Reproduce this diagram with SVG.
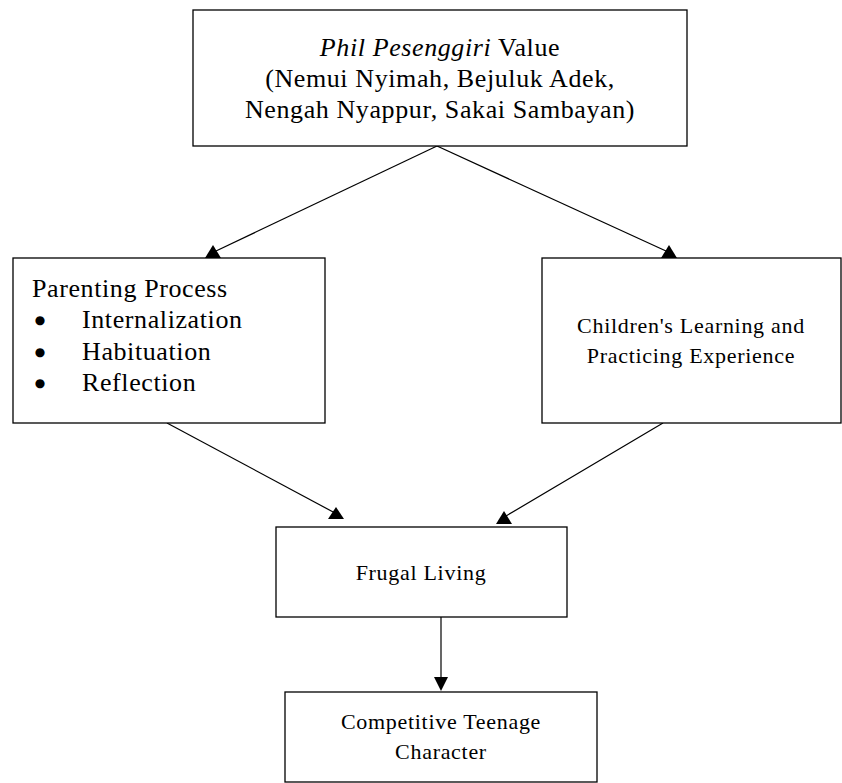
<svg xmlns="http://www.w3.org/2000/svg" width="842" height="783" viewBox="0 0 842 783">
<style>
.big{font-family:'Liberation Serif','Tinos','DejaVu Serif',serif;font-size:26px;letter-spacing:0.6px;fill:#000}
.sm{font-family:'Liberation Serif','Tinos','DejaVu Serif',serif;font-size:22px;letter-spacing:0.7px;fill:#000}
.bul{font-family:'DejaVu Sans',sans-serif;font-size:12px;fill:#000;text-anchor:middle}
.box{fill:#fff;stroke:#000;stroke-width:1.3}
.c{text-anchor:middle}
.ln{stroke:#000;stroke-width:1.2;fill:none}
.ah{fill:#000}
</style>
<rect width="842" height="783" fill="#fff"/>
<g id="connectors">
<line class="ln" x1="437" y1="146" x2="216" y2="251"/>
<polygon class="ah" points="205,258 221,258 213,245"/>
<line class="ln" x1="437" y1="146" x2="666" y2="251"/>
<polygon class="ah" points="661,258 677,258 669,245"/>
<line class="ln" x1="167" y1="423" x2="335" y2="513"/>
<polygon class="ah" points="328,519 344,519 336,507"/>
<line class="ln" x1="663" y1="423" x2="506" y2="516"/>
<polygon class="ah" points="496,524 512,524 504,511"/>
<line class="ln" x1="441" y1="617" x2="441" y2="680"/>
<polygon class="ah" points="434,677 448,677 441,691"/>
</g>
<g id="phil">
<rect class="box" x="193" y="10" width="494" height="136"/>
<text class="big c" x="440" y="56"><tspan font-style="italic">Phil Pesenggiri</tspan> Value</text>
<text class="big c" x="440" y="87">(Nemui Nyimah, Bejuluk Adek,</text>
<text class="big c" x="440" y="118">Nengah Nyappur, Sakai Sambayan)</text>
</g>
<g id="parenting">
<rect class="box" x="13" y="258" width="312" height="165"/>
<text class="big" x="32" y="297">Parenting Process</text>
<text class="bul" x="40" y="324">●</text>
<text class="big" x="82" y="328">Internalization</text>
<text class="bul" x="40" y="356">●</text>
<text class="big" x="82" y="360">Habituation</text>
<text class="bul" x="40" y="387">●</text>
<text class="big" x="82" y="391">Reflection</text>
</g>
<g id="children">
<rect class="box" x="542" y="258" width="299" height="165"/>
<text class="sm c" x="691" y="333">Children's Learning and</text>
<text class="sm c" x="691" y="363">Practicing Experience</text>
</g>
<g id="frugal">
<rect class="box" x="276" y="527" width="291" height="90"/>
<text class="sm c" x="421" y="580">Frugal Living</text>
</g>
<g id="competitive">
<rect class="box" x="285" y="692" width="312" height="90"/>
<text class="sm c" x="441" y="729">Competitive Teenage</text>
<text class="sm c" x="441" y="759">Character</text>
</g>
</svg>
